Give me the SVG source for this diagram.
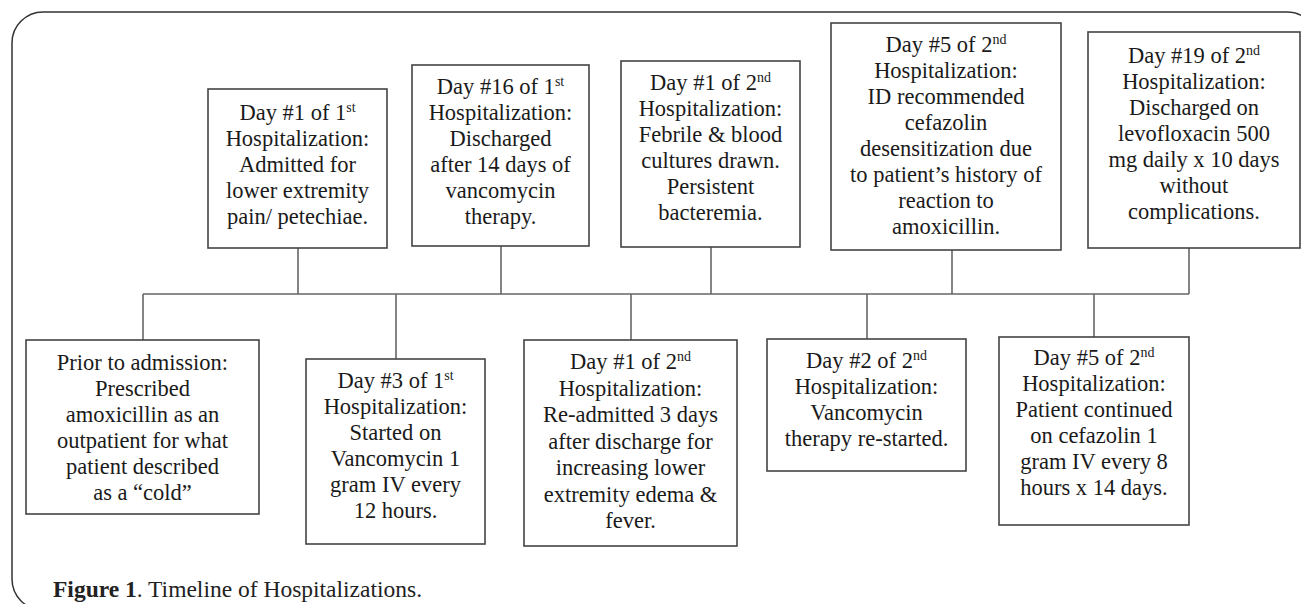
<svg xmlns="http://www.w3.org/2000/svg" width="1301" height="604" viewBox="0 0 1301 604">
<style>
.frame{fill:none;stroke:#333;stroke-width:1.5}
.box{fill:#fff;stroke:#444;stroke-width:1.6}
.conn line{stroke:#666;stroke-width:1.6}
.t{font-family:"Liberation Serif","Times New Roman",serif;font-size:22.5px;fill:#1a1a1a;text-anchor:middle}
.sup{font-size:14px}
.cap{font-family:"Liberation Serif","Times New Roman",serif;font-size:23.5px;fill:#222}
</style>
<rect width="1301" height="604" fill="#fff"/>
<rect class="frame" x="12" y="12" width="1306" height="598" rx="31" ry="31"/>

<g id="connectors" class="conn">
<line x1="143" y1="294" x2="1189" y2="294"/>
<line x1="298" y1="248" x2="298" y2="294"/>
<line x1="501" y1="246" x2="501" y2="294"/>
<line x1="711" y1="247" x2="711" y2="294"/>
<line x1="952" y1="250" x2="952" y2="294"/>
<line x1="1189" y1="248" x2="1189" y2="294"/>
<line x1="143" y1="294" x2="143" y2="340"/>
<line x1="396" y1="294" x2="396" y2="359"/>
<line x1="631" y1="294" x2="631" y2="340"/>
<line x1="867" y1="294" x2="867" y2="339"/>
<line x1="1094" y1="294" x2="1094" y2="337"/>
</g>

<g id="n1">
<rect class="box" x="208" y="89" width="179" height="159"/>
<text class="t" x="297.5" y="120">Day #1 of 1<tspan class="sup" dy="-8">st</tspan></text>
<text class="t" x="297.5" y="146">Hospitalization:</text>
<text class="t" x="297.5" y="172">Admitted for</text>
<text class="t" x="297.5" y="198">lower extremity</text>
<text class="t" x="297.5" y="224">pain/ petechiae.</text>
</g>

<g id="n2">
<rect class="box" x="412" y="65" width="177" height="181"/>
<text class="t" x="500.5" y="94">Day #16 of 1<tspan class="sup" dy="-8">st</tspan></text>
<text class="t" x="500.5" y="120">Hospitalization:</text>
<text class="t" x="500.5" y="146">Discharged</text>
<text class="t" x="500.5" y="172">after 14 days of</text>
<text class="t" x="500.5" y="198">vancomycin</text>
<text class="t" x="500.5" y="224">therapy.</text>
</g>

<g id="n3">
<rect class="box" x="621" y="61" width="179" height="186"/>
<text class="t" x="710.5" y="90">Day #1 of 2<tspan class="sup" dy="-8">nd</tspan></text>
<text class="t" x="710.5" y="116">Hospitalization:</text>
<text class="t" x="710.5" y="142">Febrile &amp; blood</text>
<text class="t" x="710.5" y="168">cultures drawn.</text>
<text class="t" x="710.5" y="194">Persistent</text>
<text class="t" x="710.5" y="220">bacteremia.</text>
</g>

<g id="n4">
<rect class="box" x="831" y="23" width="230" height="227"/>
<text class="t" x="946" y="52">Day #5 of 2<tspan class="sup" dy="-8">nd</tspan></text>
<text class="t" x="946" y="78">Hospitalization:</text>
<text class="t" x="946" y="104">ID recommended</text>
<text class="t" x="946" y="130">cefazolin</text>
<text class="t" x="946" y="156">desensitization due</text>
<text class="t" x="946" y="182">to patient’s history of</text>
<text class="t" x="946" y="208">reaction to</text>
<text class="t" x="946" y="234">amoxicillin.</text>
</g>

<g id="n5">
<rect class="box" x="1088" y="32" width="212" height="216"/>
<text class="t" x="1194" y="63">Day #19 of 2<tspan class="sup" dy="-8">nd</tspan></text>
<text class="t" x="1194" y="89">Hospitalization:</text>
<text class="t" x="1194" y="115">Discharged on</text>
<text class="t" x="1194" y="141">levofloxacin 500</text>
<text class="t" x="1194" y="167">mg daily x 10 days</text>
<text class="t" x="1194" y="193">without</text>
<text class="t" x="1194" y="219">complications.</text>
</g>

<g id="b1">
<rect class="box" x="26" y="340" width="233" height="174"/>
<text class="t" x="142.5" y="370">Prior to admission:</text>
<text class="t" x="142.5" y="396">Prescribed</text>
<text class="t" x="142.5" y="422">amoxicillin as an</text>
<text class="t" x="142.5" y="448">outpatient for what</text>
<text class="t" x="142.5" y="474">patient described</text>
<text class="t" x="142.5" y="500">as a “cold”</text>
</g>

<g id="b2">
<rect class="box" x="306" y="359" width="179" height="185"/>
<text class="t" x="395.5" y="388">Day #3 of 1<tspan class="sup" dy="-8">st</tspan></text>
<text class="t" x="395.5" y="414">Hospitalization:</text>
<text class="t" x="395.5" y="440">Started on</text>
<text class="t" x="395.5" y="466">Vancomycin 1</text>
<text class="t" x="395.5" y="492">gram IV every</text>
<text class="t" x="395.5" y="518">12 hours.</text>
</g>

<g id="b3">
<rect class="box" x="524" y="340" width="213" height="206"/>
<text class="t" x="630.5" y="369">Day #1 of 2<tspan class="sup" dy="-8">nd</tspan></text>
<text class="t" x="630.5" y="395.5">Hospitalization:</text>
<text class="t" x="630.5" y="422">Re-admitted 3 days</text>
<text class="t" x="630.5" y="448.5">after discharge for</text>
<text class="t" x="630.5" y="475">increasing lower</text>
<text class="t" x="630.5" y="501.5">extremity edema &amp;</text>
<text class="t" x="630.5" y="528">fever.</text>
</g>

<g id="b4">
<rect class="box" x="767" y="339" width="199" height="132"/>
<text class="t" x="866.5" y="368">Day #2 of 2<tspan class="sup" dy="-8">nd</tspan></text>
<text class="t" x="866.5" y="394">Hospitalization:</text>
<text class="t" x="866.5" y="420">Vancomycin</text>
<text class="t" x="866.5" y="446">therapy re-started.</text>
</g>

<g id="b5">
<rect class="box" x="999" y="337" width="190" height="188"/>
<text class="t" x="1094" y="365">Day #5 of 2<tspan class="sup" dy="-8">nd</tspan></text>
<text class="t" x="1094" y="391">Hospitalization:</text>
<text class="t" x="1094" y="417">Patient continued</text>
<text class="t" x="1094" y="443">on cefazolin 1</text>
<text class="t" x="1094" y="469">gram IV every 8</text>
<text class="t" x="1094" y="495">hours x 14 days.</text>
</g>

<text class="cap" x="53" y="597"><tspan font-weight="bold">Figure 1</tspan>. Timeline of Hospitalizations.</text>
</svg>
